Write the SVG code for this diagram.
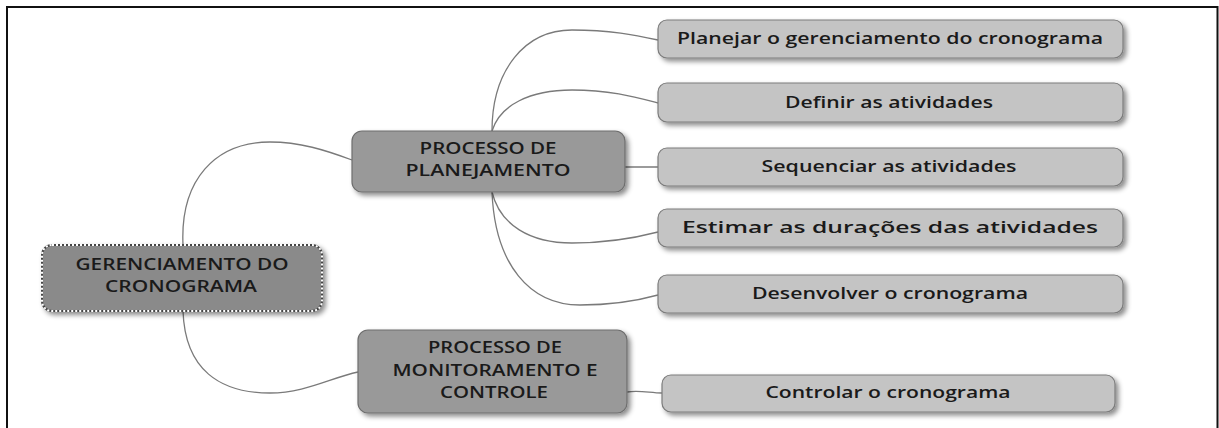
<svg xmlns="http://www.w3.org/2000/svg" width="1219" height="428" viewBox="0 0 1219 428">
<defs>
<filter id="sh" x="-10%" y="-30%" width="130%" height="170%">
<feDropShadow dx="3" dy="3" stdDeviation="2.5" flood-color="#000" flood-opacity="0.45"/>
</filter>
<style>
.t{font-family:"Open Sans","DejaVu Sans",sans-serif;font-size:17px;font-weight:600;fill:#1a1a1a;text-anchor:middle}
.u{font-size:16px}
.c{fill:none;stroke:#7a7a7a;stroke-width:1.3}
.leaf{fill:#c4c4c4;stroke:#7c7c7c;stroke-width:1.2}
.mid{fill:#999999;stroke:#6e6e6e;stroke-width:1.2}
</style>
</defs>
<rect x="0" y="0" width="1219" height="428" fill="#fff"/>
<path d="M7 440 V7 H1217.5 V440" fill="none" stroke="#111" stroke-width="2"/>
<g id="connectors">
<path class="c" d="M183 245 C180 180 215 142 270 142 C300 142 325 150 352 160"/>
<path class="c" d="M183 311 C185 370 220 393 270 393 C305 393 330 378 358 372"/>
<path class="c" d="M492 131 C492 70 525 30 572 30 C610 30 635 35 658 40"/>
<path class="c" d="M492 131 C500 105 530 90 572 90 C610 90 635 97 658 103"/>
<path class="c" d="M625 167 L658 167"/>
<path class="c" d="M492 192 C500 225 530 243 572 243 C610 243 635 238 658 232"/>
<path class="c" d="M492 192 C495 265 530 305 580 305 C615 305 640 300 658 295"/>
<path class="c" d="M627 392 C640 390 650 393 662 393"/>
</g>
<g id="main">
<rect x="42" y="245" width="280" height="66" rx="10" fill="#8a8a8a" stroke="#444" stroke-width="2" filter="url(#sh)"/>
<rect x="42" y="245" width="280" height="66" rx="10" fill="none" stroke="#fff" stroke-width="2" stroke-dasharray="2 2"/>
<text class="t u" x="182" y="270" textLength="213" lengthAdjust="spacingAndGlyphs">GERENCIAMENTO DO</text>
<text class="t u" x="181" y="292" textLength="152" lengthAdjust="spacingAndGlyphs">CRONOGRAMA</text>
</g>
<g id="planejamento">
<rect class="mid" x="352" y="131" width="273" height="61" rx="10" filter="url(#sh)"/>
<text class="t u" x="488" y="154" textLength="137" lengthAdjust="spacingAndGlyphs">PROCESSO DE</text>
<text class="t u" x="488" y="176" textLength="165" lengthAdjust="spacingAndGlyphs">PLANEJAMENTO</text>
</g>
<g id="monitoramento">
<rect class="mid" x="358" y="330" width="269" height="83" rx="10" filter="url(#sh)"/>
<text class="t u" x="495" y="353" textLength="134" lengthAdjust="spacingAndGlyphs">PROCESSO DE</text>
<text class="t u" x="495" y="376" textLength="205" lengthAdjust="spacingAndGlyphs">MONITORAMENTO E</text>
<text class="t u" x="494" y="398" textLength="108" lengthAdjust="spacingAndGlyphs">CONTROLE</text>
</g>
<g id="planejar">
<rect class="leaf" x="658" y="20" width="465" height="38" rx="9" filter="url(#sh)"/>
<text class="t" x="890" y="44" textLength="426" lengthAdjust="spacingAndGlyphs">Planejar o gerenciamento do cronograma</text>
</g>
<g id="definir">
<rect class="leaf" x="658" y="83" width="465" height="39" rx="9" filter="url(#sh)"/>
<text class="t" x="889" y="108" textLength="208" lengthAdjust="spacingAndGlyphs">Definir as atividades</text>
</g>
<g id="sequenciar">
<rect class="leaf" x="658" y="148" width="465" height="38" rx="9" filter="url(#sh)"/>
<text class="t" x="889" y="172" textLength="255" lengthAdjust="spacingAndGlyphs">Sequenciar as atividades</text>
</g>
<g id="estimar">
<rect class="leaf" x="658" y="209" width="465" height="38" rx="9" filter="url(#sh)"/>
<text class="t" x="890" y="233" textLength="416" lengthAdjust="spacingAndGlyphs">Estimar as durações das atividades</text>
</g>
<g id="desenvolver">
<rect class="leaf" x="658" y="275" width="465" height="38" rx="9" filter="url(#sh)"/>
<text class="t" x="890" y="299" textLength="276" lengthAdjust="spacingAndGlyphs">Desenvolver o cronograma</text>
</g>
<g id="controlar">
<rect class="leaf" x="662" y="375" width="453" height="37" rx="9" filter="url(#sh)"/>
<text class="t" x="888" y="398" textLength="245" lengthAdjust="spacingAndGlyphs">Controlar o cronograma</text>
</g>
</svg>
